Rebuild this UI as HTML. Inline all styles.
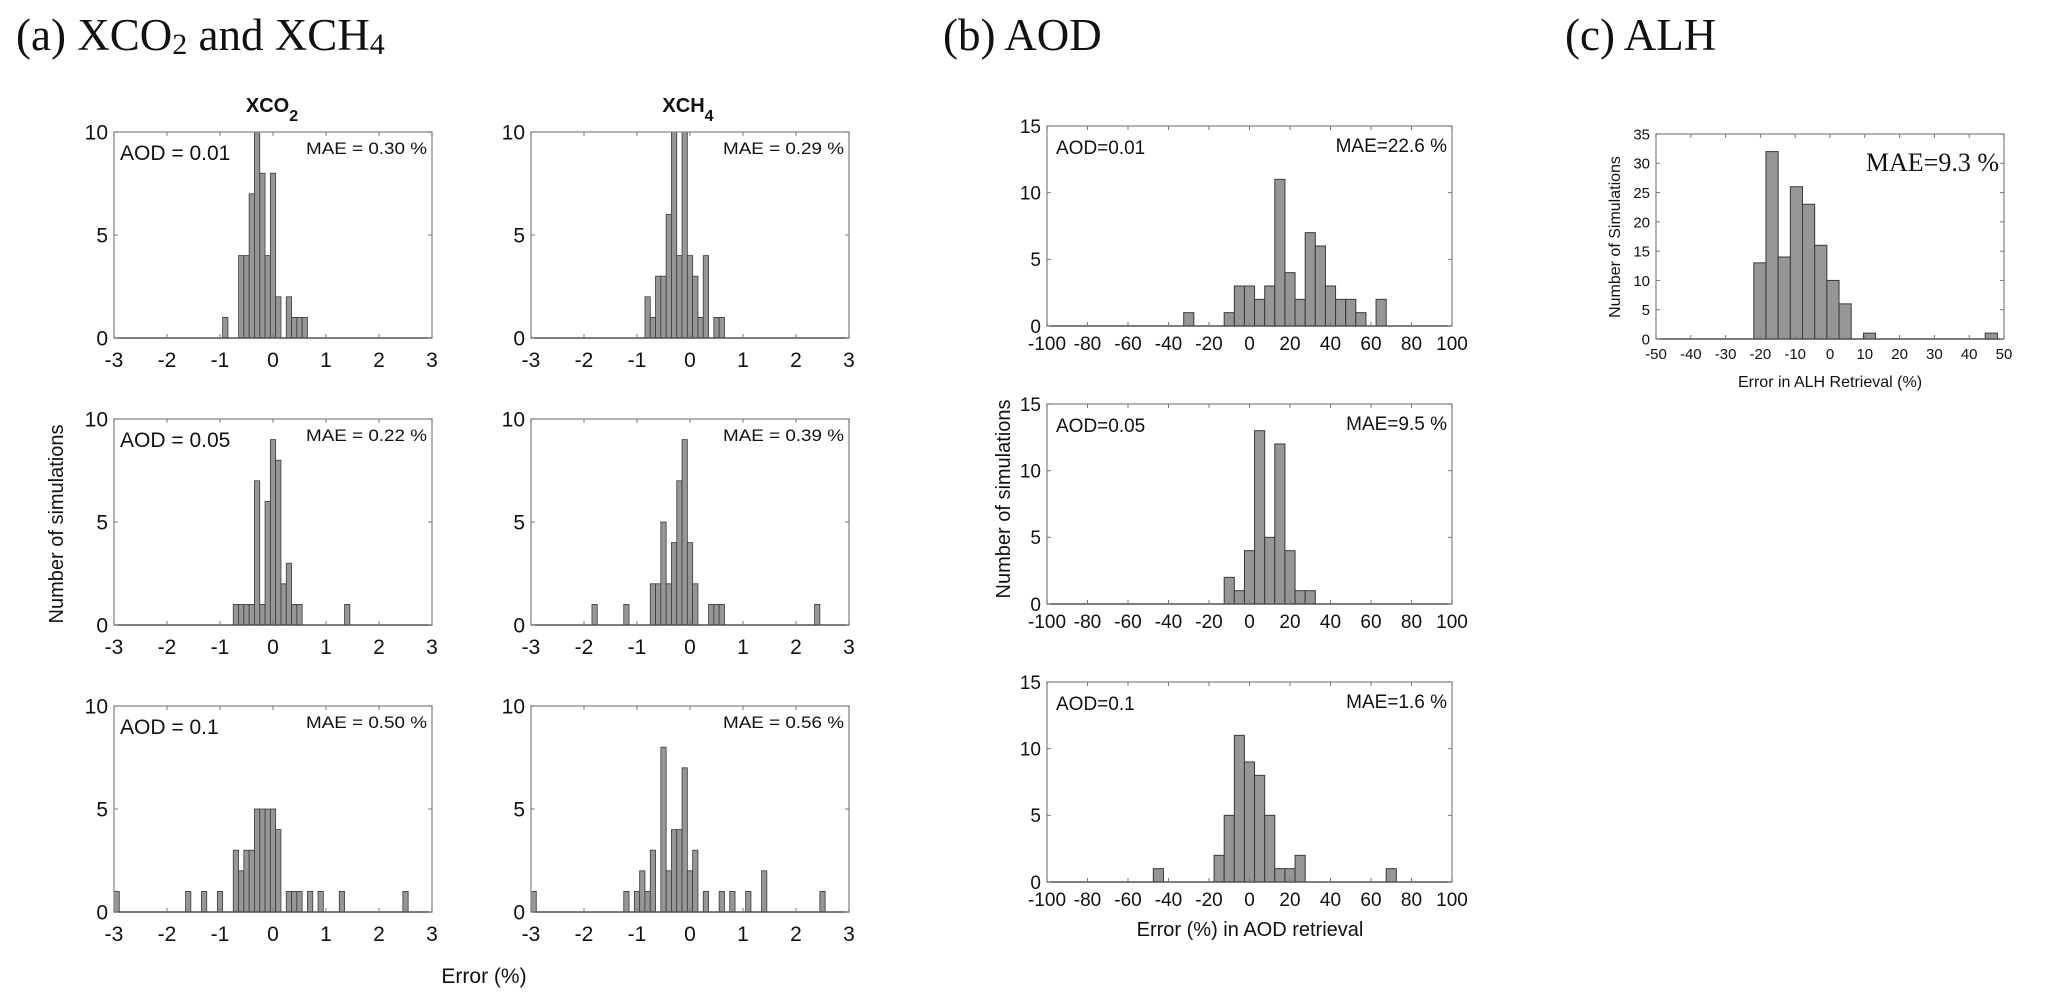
<!DOCTYPE html>
<html><head><meta charset="utf-8"><style>
html,body{margin:0;padding:0;background:#fff;}
svg{display:block;}
text{font-family:"Liberation Sans",Arial,sans-serif;fill:#111;}
.serif{font-family:"Liberation Serif","Times New Roman",serif;}
</style></head><body>
<svg id="fig" width="2067" height="1007" viewBox="0 0 2067 1007" xmlns="http://www.w3.org/2000/svg">
<text class="serif" x="16" y="50" font-size="45">(a) XCO<tspan font-size="30" dy="4">2</tspan><tspan dy="-4"> and XCH</tspan><tspan font-size="30" dy="4">4</tspan></text>
<text class="serif" x="943" y="50" font-size="45">(b) AOD</text>
<text class="serif" x="1565" y="50" font-size="45">(c) ALH</text>
<text x="272" y="112" font-size="20" font-weight="bold" text-anchor="middle">XCO<tspan font-size="16" dy="9">2</tspan></text>
<text x="688" y="112" font-size="20" font-weight="bold" text-anchor="middle">XCH<tspan font-size="16" dy="9">4</tspan></text>
<text x="0" y="0" font-size="20" text-anchor="middle" transform="translate(63,524) rotate(-90)">Number of simulations</text>
<text x="484" y="983" font-size="21" text-anchor="middle">Error (%)</text>
<text x="0" y="0" font-size="20" text-anchor="middle" transform="translate(1010,499) rotate(-90)">Number of simulations</text>
<text x="1250" y="936" font-size="20" text-anchor="middle">Error (%) in AOD retrieval</text>
<text x="0" y="0" font-size="16" text-anchor="middle" transform="translate(1620,237) rotate(-90)">Number of Simulations</text>
<text x="1830" y="387" font-size="16" text-anchor="middle">Error in ALH Retrieval (%)</text>
</svg>
<script>
// ---- data ----
const co2Row1Centers = [-0.9,-0.6,-0.5,-0.4,-0.3,-0.2,-0.1,0,0.1,0.3,0.4,0.5,0.6];
const co2Row1Counts  = [1,4,4,7,10,8,4,8,2,2,1,1,1];
const ch4Row1Centers = [-0.8,-0.7,-0.6,-0.5,-0.4,-0.3,-0.2,-0.1,0,0.1,0.2,0.3,0.5,0.6];
const ch4Row1Counts  = [2,1,3,3,6,10,4,10,4,3,1,4,1,1];
const co2Row2Centers = [-0.7,-0.6,-0.5,-0.4,-0.3,-0.2,-0.1,0,0.1,0.2,0.3,0.4,0.5,1.4];
const co2Row2Counts  = [1,1,1,1,7,1,6,9,8,2,3,1,1,1];
const ch4Row2Centers = [-1.8,-1.2,-0.7,-0.6,-0.5,-0.4,-0.3,-0.2,-0.1,0,0.1,0.4,0.5,0.6,2.4];
const ch4Row2Counts  = [1,1,2,2,5,2,4,7,9,4,2,1,1,1,1];
const co2Row3Centers = [-2.95,-1.6,-1.3,-1.0,-0.7,-0.6,-0.5,-0.4,-0.3,-0.2,-0.1,0,0.1,0.3,0.4,0.5,0.7,0.9,1.3,2.5];
const co2Row3Counts  = [1,1,1,1,3,2,3,3,5,5,5,5,4,1,1,1,1,1,1,1];
const ch4Row3Centers = [-2.95,-1.2,-1.0,-0.9,-0.8,-0.7,-0.5,-0.4,-0.3,-0.2,-0.1,0,0.1,0.3,0.6,0.8,1.1,1.4,2.5];
const ch4Row3Counts  = [1,1,1,2,1,3,8,2,4,4,7,2,3,1,1,1,1,2,1];
const aod1Centers = [-30,-10,-5,0,5,10,15,20,25,30,35,40,45,50,55,65];
const aod1Counts  = [1,1,3,3,2,3,11,4,2,7,6,3,2,2,1,2];
const aod2Centers = [-10,-5,0,5,10,15,20,25,30];
const aod2Counts  = [2,1,4,13,5,12,4,1,1];
const aod3Centers = [-45,-15,-10,-5,0,5,10,15,20,25,70];
const aod3Counts  = [1,2,5,11,9,8,5,1,1,2,1];
const alhBinStart = -21.9;
const alhBinWidth = 3.5;
const alhCounts = [13,32,14,26,23,16,10,6,0,1,0,0,0,0,0,0,0,0,0,1];
const tickA = [-3,-2,-1,0,1,2,3];
const tickAY = [0,5,10];
const tickB = [-100,-80,-60,-40,-20,0,20,40,60,80,100];
const tickBY = [0,5,10,15];
const tickC = [-50,-40,-30,-20,-10,0,10,20,30,40,50];
const tickCY = [0,5,10,15,20,25,30,35];

const NS = "http://www.w3.org/2000/svg";
const svg = document.getElementById('fig');
function mk(tag, attrs, parent){
  const e = document.createElementNS(NS, tag);
  for (const k in attrs) e.setAttribute(k, attrs[k]);
  (parent||svg).appendChild(e);
  return e;
}
function hist(o){
  const g = mk('g', {});
  
  
  const sx = v => o.x0 + (v - o.xmin) / (o.xmax - o.xmin) * (o.x1 - o.x0);
  const sy = v => o.y1 - v / o.ymax * (o.y1 - o.y0);
  for (let i = 0; i < o.counts.length; i++) {
    const c = o.counts[i];
    if (!c) continue;
    const ctr = o.centers ? o.centers[i] : o.start + (i + 0.5) * o.bw;
    const a = Math.max(sx(ctr - o.bw / 2), o.x0), b = sx(ctr + o.bw / 2);
    const r = mk('rect', {x:a, y:sy(c), width:b - a, height:sy(0) - sy(c), fill:'#969696', stroke:'#3a3a3a', 'stroke-width':o.sw||1}, g);
    
    
  }
  const box = mk('rect', {x:o.x0, y:o.y0, width:o.x1 - o.x0, height:o.y1 - o.y0, fill:'none', stroke:'#8a8a8a', 'stroke-width':1.3}, g);
  
  
  mk('line', {x1:o.x0, x2:o.x1, y1:o.y1, y2:o.y1, stroke:'#444', 'stroke-width':1.3}, g);
  const tl = 4;
  o.xt.forEach(t => {
    const x = sx(t);
    mk('line', {x1:x, x2:x, y1:o.y1, y2:o.y1 - tl, stroke:'#777'}, g);
    mk('line', {x1:x, x2:x, y1:o.y0, y2:o.y0 + tl, stroke:'#777'}, g);
    const tx = mk('text', {x:x, y:o.y1 + o.xlOff, 'font-size':o.fs, 'text-anchor':'middle'}, g);
    tx.textContent = t;
    
    
  });
  o.yt.forEach(t => {
    const y = sy(t);
    mk('line', {x1:o.x0, x2:o.x0 + tl, y1:y, y2:y, stroke:'#777'}, g);
    mk('line', {x1:o.x1, x2:o.x1 - tl, y1:y, y2:y, stroke:'#777'}, g);
    const ty = mk('text', {x:o.x0 - 6, y:y + o.fs * 0.36, 'font-size':o.fs, 'text-anchor':'end'}, g);
    ty.textContent = t;
    
    
  });
  if (o.aod) {
    const t = mk('text', {x:o.x0 + o.aodDx, y:o.y0 + o.aodDy, 'font-size':o.aodFs}, g);
    t.textContent = o.aod;
    
    
  }
  if (o.mae) {
    const attrs = {x:o.x1 - 5, y:o.y0 + o.maeDy, 'font-size':o.maeFs, 'text-anchor':'end'};
    if (o.maeLen) { attrs.textLength = o.maeLen; attrs.lengthAdjust = 'spacingAndGlyphs'; attrs.x = o.x1 - 5 - o.maeLen; attrs['text-anchor'] = 'start'; }
    if (o.maeSerif) attrs['class'] = 'serif';
    const t = mk('text', attrs, g);
    t.textContent = o.mae;
    
    
  }
}
const rowsA = [132, 419, 706];
const colsA = [[114, 432], [531, 849]];
const aData = [
  [co2Row1Centers, co2Row1Counts, ch4Row1Centers, ch4Row1Counts, 'AOD = 0.01', 'MAE = 0.30 %', 'MAE = 0.29 %'],
  [co2Row2Centers, co2Row2Counts, ch4Row2Centers, ch4Row2Counts, 'AOD = 0.05', 'MAE = 0.22 %', 'MAE = 0.39 %'],
  [co2Row3Centers, co2Row3Counts, ch4Row3Centers, ch4Row3Counts, 'AOD = 0.1', 'MAE = 0.50 %', 'MAE = 0.56 %']
];
rowsA.forEach((y0, r) => {
  [0, 1].forEach(c => {
    hist({name: (c ? 'xch4' : 'xco2') + '-histogram-row' + (r + 1),
      x0: colsA[c][0], x1: colsA[c][1], y0: y0, y1: y0 + 206,
      xmin: -3, xmax: 3, ymax: 10, bw: 0.1,
      centers: aData[r][c * 2], counts: aData[r][c * 2 + 1],
      xt: tickA, yt: tickAY, fs: 21, xlOff: 29, sw: 0.8,
      aod: c ? null : aData[r][4], aodDx: 6, aodDy: 28, aodFs: 21,
      mae: aData[r][5 + c], maeDy: 22, maeFs: 17, maeLen: 121});
  });
});
const rowsB = [126, 404, 682];
const bData = [[aod1Centers, aod1Counts, 'AOD=0.01', 'MAE=22.6 %'], [aod2Centers, aod2Counts, 'AOD=0.05', 'MAE=9.5 %'], [aod3Centers, aod3Counts, 'AOD=0.1', 'MAE=1.6 %']];
rowsB.forEach((y0, r) => {
  hist({name: 'aod-histogram-row' + (r + 1), x0: 1047, x1: 1452, y0: y0, y1: y0 + 200,
    xmin: -100, xmax: 100, ymax: 15, bw: 5, centers: bData[r][0], counts: bData[r][1],
    xt: tickB, yt: tickBY, fs: 19, xlOff: 24, sw: 1,
    aod: bData[r][2], aodDx: 9, aodDy: 28, aodFs: 19,
    mae: bData[r][3], maeDy: 26, maeFs: 19});
});
hist({name: 'alh-histogram', x0: 1656, x1: 2004, y0: 134, y1: 339,
  xmin: -50, xmax: 50, ymax: 35, bw: alhBinWidth, start: alhBinStart, counts: alhCounts,
  xt: tickC, yt: tickCY, fs: 15, xlOff: 20, sw: 1,
  mae: 'MAE=9.3 %', maeDy: 37, maeFs: 26, maeSerif: true});
</script>
</body></html>
